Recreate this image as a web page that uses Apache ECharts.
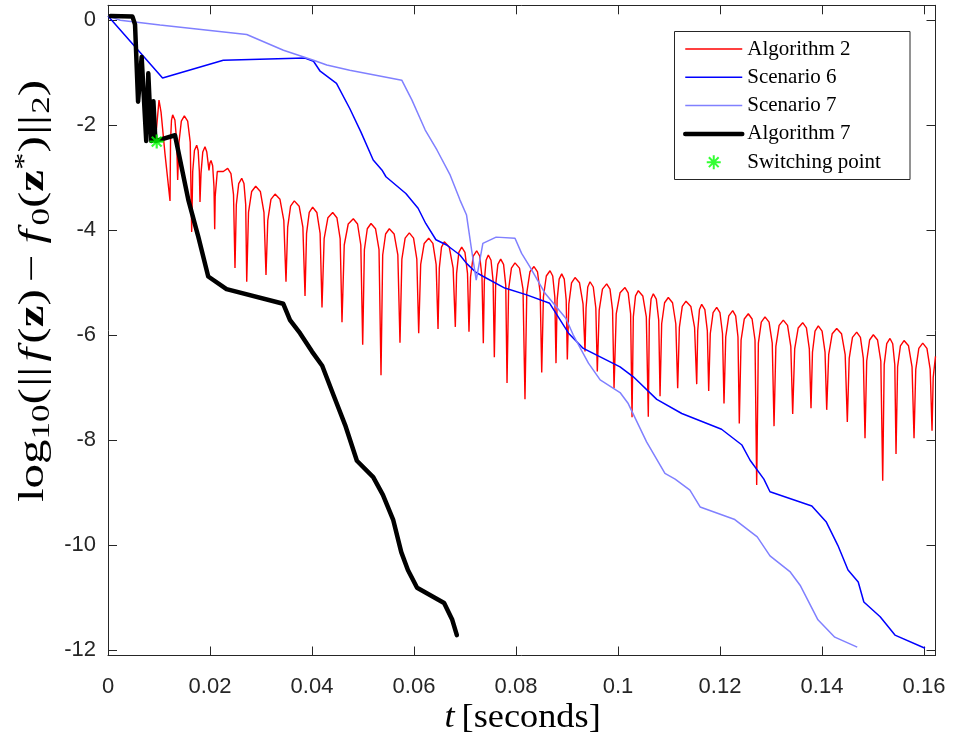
<!DOCTYPE html>
<html>
<head>
<meta charset="utf-8">
<script src="https://cdn.jsdelivr.net/npm/echarts@6/dist/echarts.min.js"></script>
<style>
  html, body { margin: 0; padding: 0; background: #ffffff; }
  #chart { width: 955px; height: 745px; }
</style>
</head>
<body>
<div id="chart"></div>
<script>
// Convergence of log10 error against run time, [t (s), log10 error] pairs.
const algorithm2 = [
  [0.0005, 0.08], [0.0048, 0.07], [0.0053, -0.08], [0.0059, -1.55], [0.0066, -0.70],
  [0.0075, -2.30], [0.0079, -1.01], [0.0085, -2.30], [0.0089, -1.54], [0.0093, -2.30],
  [0.0100, -1.52], [0.0104, -1.75], [0.01118, -2.55], [0.01216, -3.44],
  [0.01226, -2.30], [0.01245, -1.90], [0.01268, -1.80], [0.01312, -1.90], [0.01346, -2.30], [0.01366, -3.04],
  [0.01392, -2.32], [0.01438, -1.92], [0.01497, -1.82], [0.01562, -1.92], [0.01612, -2.32], [0.01641, -4.03],
  [0.01661, -2.88], [0.01695, -2.48], [0.01739, -2.38], [0.01768, -2.48], [0.01791, -2.88], [0.01804, -3.46],
  [0.01824, -2.91], [0.01858, -2.51], [0.01902, -2.41], [0.01937, -2.51], [0.01980, -2.86],
  [0.01998, -2.72], [0.02020, -2.67], [0.02052, -2.77], [0.02078, -3.17], [0.02092, -3.98],
  [0.02102, -3.35], [0.02143, -2.88], [0.02261, -2.88], [0.02347, -2.82], [0.02411, -2.92], [0.02461, -3.32], [0.02490, -4.72],
  [0.02516, -3.51], [0.02563, -3.11], [0.02622, -3.01], [0.02666, -3.11], [0.02700, -3.51], [0.02720, -4.98],
  [0.02755, -3.66], [0.02817, -3.26], [0.02896, -3.16], [0.02987, -3.26], [0.03058, -3.66], [0.03098, -4.85],
  [0.03133, -3.81], [0.03195, -3.41], [0.03275, -3.31], [0.03372, -3.41], [0.03447, -3.81], [0.03490, -4.98],
  [0.03523, -3.94], [0.03580, -3.54], [0.03653, -3.44], [0.03748, -3.54], [0.03821, -3.94], [0.03863, -5.25],
  [0.03893, -4.06], [0.03946, -3.66], [0.04013, -3.56], [0.04095, -3.66], [0.04159, -4.06], [0.04196, -5.47],
  [0.04238, -4.16], [0.04312, -3.76], [0.04406, -3.66], [0.04488, -3.76], [0.04552, -4.16], [0.04588, -5.75],
  [0.04632, -4.28], [0.04710, -3.88], [0.04810, -3.78], [0.04893, -3.88], [0.04957, -4.28], [0.04994, -6.18],
  [0.05027, -4.37], [0.05084, -3.97], [0.05157, -3.87], [0.05245, -3.97], [0.05314, -4.37], [0.05353, -6.76],
  [0.05386, -4.47], [0.05443, -4.07], [0.05516, -3.97], [0.05610, -4.07], [0.05683, -4.47], [0.05725, -6.14],
  [0.05762, -4.55], [0.05826, -4.15], [0.05908, -4.05], [0.05991, -4.15], [0.06055, -4.55], [0.06092, -5.96],
  [0.06131, -4.65], [0.06200, -4.25], [0.06288, -4.15], [0.06370, -4.25], [0.06434, -4.65], [0.06471, -5.88],
  [0.06496, -4.72], [0.06539, -4.32], [0.06594, -4.22], [0.06691, -4.32], [0.06767, -4.72], [0.06810, -5.84],
  [0.06835, -4.82], [0.06879, -4.42], [0.06935, -4.32], [0.06999, -4.42], [0.07049, -4.82], [0.07078, -5.93],
  [0.07108, -4.89], [0.07161, -4.49], [0.07229, -4.39], [0.07288, -4.49], [0.07333, -4.89], [0.07359, -6.15],
  [0.07379, -4.97], [0.07413, -4.57], [0.07457, -4.47], [0.07510, -4.57], [0.07551, -4.97], [0.07575, -6.42],
  [0.07600, -5.05], [0.07644, -4.65], [0.07700, -4.55], [0.07756, -4.65], [0.07799, -5.05], [0.07824, -6.91],
  [0.07855, -5.12], [0.07910, -4.72], [0.07980, -4.62], [0.08068, -4.72], [0.08137, -5.12], [0.08176, -7.22],
  [0.08211, -5.19], [0.08273, -4.79], [0.08353, -4.69], [0.08421, -4.79], [0.08474, -5.19], [0.08504, -6.71],
  [0.08537, -5.27], [0.08594, -4.87], [0.08667, -4.77], [0.08720, -4.87], [0.08761, -5.27], [0.08784, -6.53],
  [0.08806, -5.33], [0.08846, -4.93], [0.08896, -4.83], [0.08946, -4.93], [0.08984, -5.33], [0.09006, -6.46],
  [0.09036, -5.40], [0.09089, -5.00], [0.09157, -4.90], [0.09245, -5.00], [0.09314, -5.40], [0.09353, -6.31],
  [0.09373, -5.48], [0.09407, -5.08], [0.09451, -4.98], [0.09515, -5.08], [0.09565, -5.48], [0.09594, -6.69],
  [0.09631, -5.52], [0.09695, -5.12], [0.09778, -5.02], [0.09843, -5.12], [0.09893, -5.52], [0.09922, -7.01],
  [0.09965, -5.59], [0.10040, -5.19], [0.10137, -5.09], [0.10199, -5.19], [0.10247, -5.59], [0.10275, -7.56],
  [0.10300, -5.65], [0.10343, -5.25], [0.10398, -5.15], [0.10486, -5.25], [0.10555, -5.65], [0.10594, -7.55],
  [0.10614, -5.71], [0.10648, -5.31], [0.10692, -5.21], [0.10751, -5.31], [0.10798, -5.71], [0.10824, -7.16],
  [0.10856, -5.78], [0.10913, -5.38], [0.10986, -5.28], [0.11069, -5.38], [0.11133, -5.78], [0.11170, -7.01],
  [0.11203, -5.85], [0.11260, -5.45], [0.11333, -5.35], [0.11428, -5.45], [0.11501, -5.85], [0.11543, -6.93],
  [0.11563, -5.91], [0.11597, -5.51], [0.11641, -5.41], [0.11703, -5.51], [0.11751, -5.91], [0.11778, -7.06],
  [0.11809, -5.97], [0.11864, -5.57], [0.11935, -5.47], [0.11999, -5.57], [0.12049, -5.97], [0.12078, -7.30],
  [0.12112, -6.03], [0.12172, -5.63], [0.12249, -5.53], [0.12307, -5.63], [0.12352, -6.03], [0.12378, -7.68],
  [0.12413, -6.09], [0.12475, -5.69], [0.12555, -5.59], [0.12629, -5.69], [0.12686, -6.09], [0.12719, -8.85],
  [0.12752, -6.15], [0.12809, -5.75], [0.12882, -5.65], [0.12962, -5.75], [0.13024, -6.15], [0.13059, -7.73],
  [0.13095, -6.21], [0.13159, -5.81], [0.13241, -5.71], [0.13324, -5.81], [0.13388, -6.21], [0.13425, -7.50],
  [0.13464, -6.26], [0.13533, -5.86], [0.13621, -5.76], [0.13694, -5.86], [0.13751, -6.26], [0.13784, -7.39],
  [0.13813, -6.32], [0.13863, -5.92], [0.13927, -5.82], [0.14001, -5.92], [0.14059, -6.32], [0.14092, -7.42],
  [0.14131, -6.37], [0.14200, -5.97], [0.14288, -5.87], [0.14382, -5.97], [0.14454, -6.37], [0.14496, -7.65],
  [0.14533, -6.44], [0.14597, -6.04], [0.14680, -5.94], [0.14753, -6.04], [0.14810, -6.44], [0.14843, -7.96],
  [0.14876, -6.49], [0.14933, -6.09], [0.15006, -5.99], [0.15089, -6.09], [0.15153, -6.49], [0.15190, -8.77],
  [0.15219, -6.56], [0.15269, -6.16], [0.15333, -6.06], [0.15386, -6.16], [0.15427, -6.56], [0.15451, -8.26],
  [0.15482, -6.60], [0.15537, -6.20], [0.15608, -6.10], [0.15696, -6.20], [0.15765, -6.60], [0.15804, -7.96],
  [0.15838, -6.65], [0.15898, -6.25], [0.15975, -6.15], [0.16057, -6.25], [0.16121, -6.65], [0.16157, -7.82],
  [0.16180, -6.80], [0.16225, -6.40]
];

const scenario6 = [
  [0.0000, 0.08], [0.0107, -1.10], [0.0226, -0.76], [0.0386, -0.72], [0.0403, -0.78],
  [0.0416, -0.97], [0.0448, -1.20], [0.0474, -1.68], [0.0496, -2.13], [0.0520, -2.66],
  [0.0537, -2.85], [0.0545, -2.98], [0.0584, -3.30], [0.0608, -3.58], [0.0623, -3.87],
  [0.0643, -4.18], [0.0664, -4.28], [0.0690, -4.47], [0.0703, -4.63], [0.0720, -4.79],
  [0.0736, -4.88], [0.0778, -5.10], [0.0821, -5.23], [0.0866, -5.39], [0.0903, -5.96],
  [0.0932, -6.25], [0.1004, -6.60], [0.1030, -6.79], [0.1076, -7.22], [0.1125, -7.49],
  [0.1203, -7.79], [0.1243, -8.09], [0.1259, -8.38], [0.1286, -8.74], [0.1298, -8.98],
  [0.1380, -9.25], [0.1408, -9.55], [0.1431, -10.00], [0.1451, -10.47], [0.1471, -10.70],
  [0.1482, -11.08], [0.1514, -11.36], [0.1543, -11.71], [0.1602, -11.96]
];

const scenario7 = [
  [0.0000, 0.08], [0.0024, 0.00], [0.0102, -0.09], [0.0272, -0.27], [0.0344, -0.57],
  [0.0403, -0.76], [0.0429, -0.85], [0.0474, -0.95], [0.0576, -1.14], [0.0596, -1.52],
  [0.0622, -2.09], [0.0645, -2.47], [0.0671, -2.95], [0.0690, -3.42], [0.0703, -3.71],
  [0.0713, -4.38], [0.0722, -4.95], [0.0735, -4.25], [0.0761, -4.13], [0.0798, -4.15],
  [0.0811, -4.44], [0.0827, -4.69], [0.0857, -5.20], [0.0898, -5.68], [0.0912, -5.99],
  [0.0942, -6.53], [0.0965, -6.85], [0.1004, -7.09], [0.1020, -7.30], [0.1056, -8.03],
  [0.1092, -8.63], [0.1112, -8.74], [0.1141, -8.95], [0.1161, -9.27], [0.1229, -9.51],
  [0.1273, -9.84], [0.1298, -10.20], [0.1337, -10.50], [0.1357, -10.76], [0.1392, -11.42],
  [0.1425, -11.75], [0.1469, -11.94]
];

const algorithm7 = [
  [0.0005, 0.08], [0.0048, 0.07], [0.0053, -0.08], [0.0059, -1.55], [0.0066, -0.70],
  [0.0075, -2.30], [0.0079, -1.01], [0.0085, -2.30], [0.0089, -1.54], [0.0093, -2.30],
  [0.00955, -2.31], [0.01314, -2.19], [0.01441, -2.79], [0.01575, -3.42], [0.01770, -4.12],
  [0.01965, -4.88], [0.02324, -5.12], [0.03437, -5.40], [0.03569, -5.71], [0.03765, -5.96],
  [0.0400, -6.31], [0.0420, -6.58], [0.0443, -7.16], [0.0465, -7.71], [0.0488, -8.39],
  [0.0520, -8.70], [0.0539, -9.04], [0.0559, -9.51], [0.0575, -10.13], [0.0588, -10.47],
  [0.0606, -10.81], [0.0659, -11.10], [0.0675, -11.42], [0.0684, -11.71]
];

const switchingPoint = [[0.00955, -2.31]];

const seriesNames = ['Algorithm 2', 'Scenario 6', 'Scenario 7', 'Algorithm 7', 'Switching point'];
const seriesColors = ['#ff0000', '#0000ff', '#8080ff', '#000000', '#00ff00'];
const lineWidths = [1.4, 1.5, 1.5, 4.5];

// Axis limits
const X_MIN = 0, X_MAX = 0.16225;
const Y_MIN = -12.099, Y_MAX = 0.2857;

const AXIS_COLOR = '#262626';
const TICK_FONT = "'Liberation Sans Narrow', 'Liberation Sans', Arial, sans-serif";
const SERIF = "'Liberation Serif', 'Times New Roman', serif";
const STAR_PATH = 'path://M0,-10L0,10M-10,0L10,0M-7,-7L7,7M-7,7L7,-7';

function valueAxis(extra) {
  return Object.assign({
    type: 'value',
    axisLine: { show: true, onZero: false, lineStyle: { color: AXIS_COLOR, width: 1 } },
    axisTick: { show: true, inside: true, length: 9, lineStyle: { color: AXIS_COLOR, width: 1 } },
    splitLine: { show: false },
    axisLabel: { show: false }
  }, extra);
}

// Rich-text styles for the math axis titles
function mathStyles(size) {
  const sub = Math.round(size * 0.7);
  const lh = Math.round(size * 1.2);
  return {
    n: { fontFamily: SERIF, fontSize: size, lineHeight: lh, fill: '#000', verticalAlign: 'middle' },
    i: { fontFamily: SERIF, fontSize: size, fontStyle: 'italic', lineHeight: lh, fill: '#000', verticalAlign: 'middle', padding: [0, 3, 0, 3] },
    b: { fontFamily: SERIF, fontSize: size, fontWeight: 'bold', lineHeight: lh, fill: '#000', verticalAlign: 'middle' },
    v: { fontFamily: SERIF, fontSize: size, lineHeight: lh, fill: '#000', verticalAlign: 'middle', padding: [0, 1, 0, 1] },
    m: { fontFamily: SERIF, fontSize: size, lineHeight: lh, fill: '#000', verticalAlign: 'middle', padding: [0, 5, 0, 5] },
    s: { fontFamily: SERIF, fontSize: sub, lineHeight: Math.round(sub * 0.6), fill: '#000', verticalAlign: 'bottom' },
    p: { fontFamily: SERIF, fontSize: sub, lineHeight: Math.round(sub * 0.6), fill: '#000', verticalAlign: 'top' }
  };
}

function lineLegendItem(k) {
  return {
    name: seriesNames[k],
    itemStyle: { opacity: 0 },
    lineStyle: { color: seriesColors[k], width: lineWidths[k], opacity: 1 }
  };
}

function lineSeries(k, data, extra) {
  return Object.assign({
    name: seriesNames[k], type: 'line', data: data, showSymbol: false, symbol: 'none',
    color: seriesColors[k],
    lineStyle: { color: seriesColors[k], width: lineWidths[k] },
    silent: true, z: 2
  }, extra || {});
}

const chart = echarts.init(document.getElementById('chart'), null, { renderer: 'canvas' });

chart.setOption({
  animation: false,
  backgroundColor: '#ffffff',
  grid: { left: 108, top: 5.3, width: 827.5, height: 650.2, containLabel: false },
  xAxis: [
    valueAxis({
      min: X_MIN, max: X_MAX, splitNumber: 8, position: 'bottom',
      axisLabel: {
        show: true, margin: 20, color: AXIS_COLOR, fontFamily: TICK_FONT, fontSize: 22,
        showMinLabel: true, showMaxLabel: false
      }
    }),
    valueAxis({ min: X_MIN, max: X_MAX, splitNumber: 8, position: 'top' })
  ],
  yAxis: [
    valueAxis({
      min: Y_MIN, max: Y_MAX, splitNumber: 6, position: 'left',
      axisLabel: {
        show: true, margin: 12, color: AXIS_COLOR, fontFamily: TICK_FONT, fontSize: 22,
        showMinLabel: false, showMaxLabel: false
      }
    }),
    valueAxis({ min: Y_MIN, max: Y_MAX, splitNumber: 6, position: 'right' })
  ],
  legend: {
    orient: 'vertical', left: 683, top: 38.5, padding: 0,
    itemWidth: 57, itemHeight: 14, itemGap: 7.3, z: 6,
    symbolKeepAspect: true,
    textStyle: { fontFamily: SERIF, fontSize: 21, color: '#000000' },
    data: [
      lineLegendItem(0), lineLegendItem(1), lineLegendItem(2), lineLegendItem(3),
      { name: seriesNames[4], icon: STAR_PATH }
    ],
    selectedMode: false
  },
  graphic: [
    {
      type: 'rect', z: 5,
      shape: { x: 674.5, y: 31.5, width: 235.5, height: 148 },
      style: { fill: '#ffffff', stroke: AXIS_COLOR, lineWidth: 1 }
    },
    {
      type: 'text', x: 34, y: 291, rotation: Math.PI / 2, scaleX: 1.4,
      style: {
        x: 0, y: 0, align: 'center', verticalAlign: 'middle',
        text: '{n|log}{s|10}{n|(}{v|||}{i|f}{n|(}{b|z}{n|)}{m|−}{i|f}{s|0}{n|(}{b|z}{p|*}{n|)}{v|||}{s|2}{n|)}',
        rich: mathStyles(35)
      }
    },
    {
      type: 'text', x: 521, y: 718, scaleX: 1.1,
      style: {
        x: 0, y: 0, align: 'center', verticalAlign: 'middle',
        text: '{i|t} {n|[seconds]}',
        rich: mathStyles(33)
      }
    }
  ],
  series: [
    lineSeries(0, algorithm2),
    lineSeries(1, scenario6),
    lineSeries(2, scenario7),
    lineSeries(3, algorithm7, {
      lineStyle: { color: seriesColors[3], width: lineWidths[3], join: 'round', cap: 'round' }
    }),
    {
      name: seriesNames[4], type: 'scatter', data: switchingPoint, symbol: STAR_PATH, symbolSize: 14,
      itemStyle: { color: seriesColors[4], borderColor: seriesColors[4], borderWidth: 2.2 }, silent: true, z: 3
    }
  ]
});
</script>
</body>
</html>
